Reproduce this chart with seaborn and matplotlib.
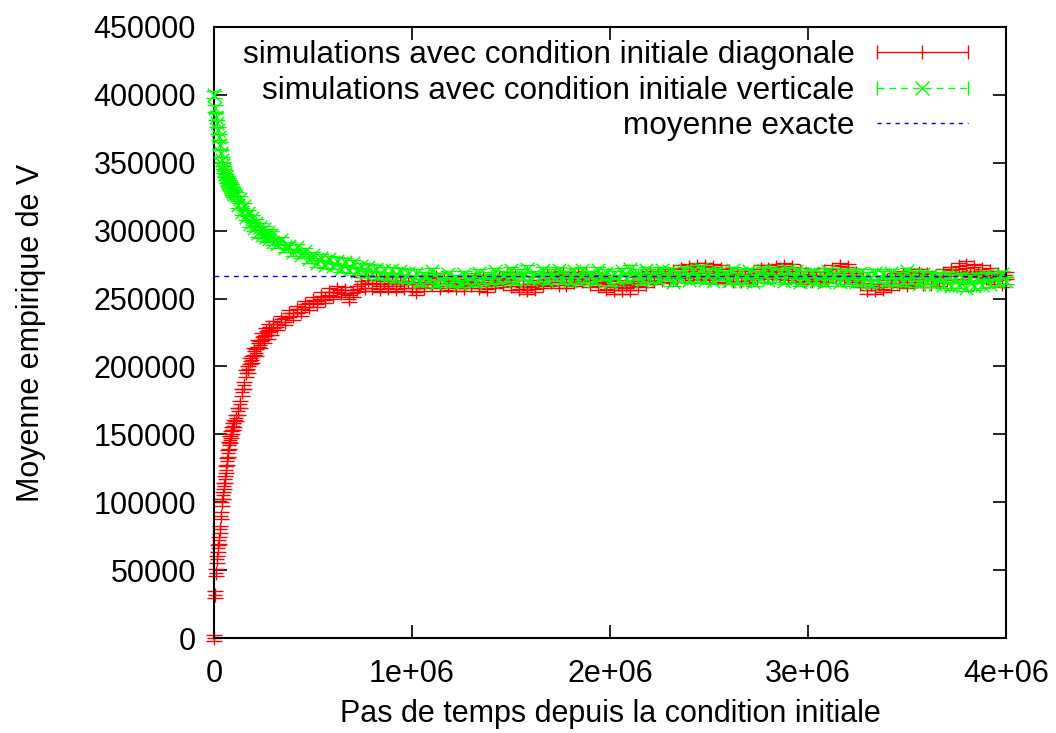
import numpy as np
import pandas as pd
import matplotlib
matplotlib.use("Agg")
import matplotlib.pyplot as plt
from matplotlib.lines import Line2D
from matplotlib.legend_handler import HandlerLine2D, HandlerTuple
import seaborn as sns

# time steps: fine grid at the start, coarser afterwards
pas_debut = np.arange(0, 100001, 5000)
pas_milieu = np.arange(110000, 300001, 10000)
pas_suite = np.arange(320000, 4000001, 20000)

# empirical mean of V (thousands) -- diagonal initial condition
diag_debut = [0, 32, 48, 58, 66, 72, 80, 90, 100, 105, 112, 117, 124, 130, 136,
              142, 146, 150, 153, 156, 158]
diag_milieu = [162, 167, 172, 181, 186, 195, 198, 204, 205, 211,
               210, 217, 216, 222, 220, 226, 223, 229, 226, 231]
diag_suite = [
    229, 235, 233, 239, 237, 242, 240, 246, 244, 249,
    246, 252, 249, 255, 252, 257, 254, 256, 250, 254,
    257, 263, 258, 264, 258, 264, 257, 263, 258, 264,
    257, 263, 258, 263, 258,
    255, 262, 258, 265, 261, 266, 258, 266, 259, 263,
    258, 262, 258, 263, 260, 265, 258, 265, 257, 264,
    260, 265, 261, 267, 259, 266, 257, 261, 256, 261,
    257, 264, 260, 267, 262, 267, 260, 268, 260, 267,
    262, 267, 263, 268, 261, 266, 259, 265, 257, 263,
    256, 261, 256, 260, 256, 263, 259, 266, 261, 268,
    263, 268, 264, 269, 265, 270, 265, 272, 265, 273,
    266, 274, 267, 274, 266, 273, 265, 272, 264, 270,
    263, 268, 263, 268, 264, 269, 265, 272, 267, 272,
    268, 273, 267, 274, 266, 273, 265, 270, 263, 268,
    263, 267, 263, 270, 265, 272, 267, 274, 266, 273,
    265, 269, 261, 264, 256, 261, 256, 261, 257, 264,
    259, 266, 261, 268, 260, 267, 262, 269, 261, 268,
    261, 266, 262, 269, 264, 271, 267, 274, 267, 275,
    268, 273, 268, 272, 265, 270, 263, 268, 261, 267,
]

# empirical mean of V (thousands) -- vertical initial condition
vert_debut = [400, 390, 384, 379, 374, 369, 363, 357, 352, 348, 345, 342, 339.5,
              337.5, 336, 334.5, 333, 331.5, 330, 328.5, 327]
vert_milieu = [326, 319, 323, 314, 318, 310, 313, 305, 309, 302,
               306, 298, 303, 297, 301, 295, 299, 294, 297, 292]
vert_suite = [
    290, 293, 287, 289, 284, 288, 282, 285, 279, 282,
    276, 280, 275, 279, 274, 278, 272, 277, 271, 276,
    270, 274, 268, 273, 268, 272, 267, 271, 266, 271,
    265, 270, 265, 269, 264,
    269, 262, 267, 264, 270, 261, 266, 263, 268, 262,
    265, 261, 268, 263, 266, 262, 269, 264, 267, 263,
    270, 264, 268, 265, 271, 263, 269, 266, 272, 264,
    268, 265, 271, 263, 269, 266, 271, 264, 268, 263,
    270, 264, 271, 265, 268, 263, 271, 266, 269, 262,
    268, 264, 270, 265, 272, 266, 269, 263, 271, 265,
    269, 264, 271, 266, 270, 262, 268, 265, 271, 264,
    270, 265, 272, 264, 269, 263, 270, 266, 268, 263,
    271, 264, 269, 263, 270, 262, 268, 265, 271, 264,
    270, 265, 269, 263, 271, 264, 270, 262, 268, 264,
    269, 263, 268, 262, 270, 264, 267, 262, 269, 263,
    268, 262, 269, 263, 267, 261, 269, 264, 268, 262,
    269, 263, 267, 262, 270, 263, 268, 261, 268, 263,
    267, 261, 266, 260, 267, 259, 265, 260, 266, 258,
    265, 259, 266, 260, 267, 261, 266, 262, 268, 263,
]

moyenne_exacte = 266667
err_diag = 2500
err_vert = 2500

y_ticks = list(range(0, 450001, 50000))
x_ticks = [0, 1000000, 2000000, 3000000, 4000000]
x_ticklabels = ["0", "1e+06", "2e+06", "3e+06", "4e+06"]

df = pd.DataFrame({
    "pas": np.concatenate([pas_debut, pas_milieu, pas_suite]),
    "diag": np.array(diag_debut + diag_milieu + diag_suite) * 1000.0,
    "vert": np.array(vert_debut + vert_milieu + vert_suite) * 1000.0,
})

sns.set_style("ticks")
plt.rcParams["font.family"] = ["Liberation Sans", "DejaVu Sans"]
plt.rcParams["text.color"] = "black"
plt.rcParams["axes.labelcolor"] = "black"
FS = 22

fig = plt.figure(figsize=(10.56, 7.33), dpi=100)
ax = fig.add_axes([0.2027, 0.1296, 0.75, 0.8336])

RED = "#ff0000"
GREEN = "#00ff00"
BLUE = "#0000ff"

# diagonal initial condition (red, plus markers with error bars)
ax.errorbar(df["pas"], df["diag"], yerr=err_diag, fmt="none", ecolor=RED,
            elinewidth=0.8, capsize=5.5, capthick=1.0, zorder=2)
sns.scatterplot(data=df, x="pas", y="diag", marker="+", color=RED, s=95,
                linewidth=1.0, ax=ax, legend=False, zorder=2)

# vertical initial condition (green, crosses with error bars)
ax.errorbar(df["pas"], df["vert"], yerr=err_vert, fmt="none", ecolor=GREEN,
            elinewidth=0.8, capsize=5.5, capthick=1.0, zorder=3)
sns.scatterplot(data=df, x="pas", y="vert", marker="x", color=GREEN, s=95,
                linewidth=1.0, ax=ax, legend=False, zorder=3)

for art in ax.collections + ax.lines:
    art.set_clip_on(False)

# exact mean
ax.axhline(moyenne_exacte, color=BLUE, lw=1.0, dashes=(3.5, 3.5), zorder=4)

ax.set_xlim(0, 4000000)
ax.set_ylim(0, 450000)
ax.set_xticks(x_ticks)
ax.set_xticklabels(x_ticklabels)
ax.set_yticks(y_ticks)
ax.set_yticklabels([str(v) for v in y_ticks])
ax.tick_params(direction="in", length=9.5, width=1.2, top=True, right=True,
               labelsize=FS, pad=13, colors="black")
ax.tick_params(axis="x", pad=15)
for sp in ax.spines.values():
    sp.set_linewidth(1.5)
    sp.set_color("black")
    sp.set_visible(True)

ax.set_xlabel("Pas de temps depuis la condition initiale", fontsize=FS, color="black")
ax.set_ylabel("Moyenne empirique de V", fontsize=FS, color="black")
ax.xaxis.set_label_coords(0.5, -0.1)
ax.yaxis.set_label_coords(-0.212, 0.5)

# legend: one entry per row, text right-aligned and key on the right
h_diag = Line2D([], [], color=RED, lw=1, marker="|", markersize=10, mew=1)
h_vert_caps = Line2D([], [], color=GREEN, lw=1, dashes=(5, 3.5), marker="|",
                     markersize=10, mew=1)
h_vert_x = Line2D([], [], color=GREEN, lw=0, marker="x", markersize=10, mew=1)
h_moy = Line2D([], [], color=BLUE, lw=1.0, dashes=(3, 3.5))

entries = [
    ((h_diag,), "simulations avec condition initiale diagonale", 0.925),
    (((h_vert_caps, h_vert_x),), "simulations avec condition initiale verticale", 0.876),
    ((h_moy,), "moyenne exacte", 0.828),
]
hmap = {
    h_diag: HandlerLine2D(numpoints=3, marker_pad=0),
    h_vert_caps: HandlerLine2D(numpoints=2, marker_pad=0),
    h_vert_x: HandlerLine2D(numpoints=1),
    tuple: HandlerTuple(ndivide=1),
}
for i, (hs, label, ypos) in enumerate(entries):
    leg = ax.legend(list(hs), [label], loc="center right",
                    bbox_to_anchor=(968 / 1056, ypos),
                    bbox_transform=fig.transFigure, frameon=False,
                    fontsize=22.7, markerfirst=False, handlelength=2.9,
                    handletextpad=0.7, borderpad=0, borderaxespad=0,
                    handler_map=hmap, labelcolor="black")
    if i < len(entries) - 1:
        ax.add_artist(leg)

fig.savefig("out.png", dpi=100)
